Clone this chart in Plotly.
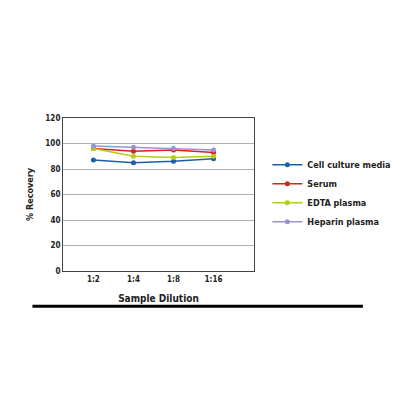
import plotly.graph_objects as go

dilutions = ['1:2', '1:4', '1:8', '1:16']
cell_culture = [87, 85, 86, 88]
serum = [96, 94, 95, 93]
edta = [96, 90, 89, 90]
heparin = [98, 97, 96, 95]
y_ticks = [0, 20, 40, 60, 80, 100, 120]

series = [
    ('Cell culture media', cell_culture, '#1f5fa8'),
    ('Serum', serum, '#d9211e'),
    ('EDTA plasma', edta, '#b5cc18'),
    ('Heparin plasma', heparin, '#9a93d6'),
]

FONT = 'Liberation Sans Narrow, DejaVu Sans Condensed, sans-serif'
xs = list(range(1, len(dilutions) + 1))

fig = go.Figure()
for name, vals, color in series:
    fig.add_trace(go.Scatter(
        x=xs, y=vals, name='<b>' + name + '</b>', mode='lines+markers',
        line=dict(color=color, width=1.5),
        marker=dict(color=color, size=5),
    ))

fig.update_layout(
    width=400, height=400,
    margin=dict(l=55, r=122, t=110, b=137),
    paper_bgcolor='white', plot_bgcolor='white',
    font=dict(family=FONT, size=8, color='#222'),
    legend=dict(x=1.07, y=0.79, xanchor='left', yanchor='top',
                font=dict(size=9, family=FONT), tracegroupgap=0,
                itemwidth=30),
    xaxis=dict(
        range=[0.24, 5.01], tickvals=xs, ticktext=['<b>%s</b>' % d for d in dilutions],
        showgrid=False, zeroline=False,
        showline=True, linecolor='#444', linewidth=1, mirror=True,
        title=dict(text='<b>Sample Dilution</b>', font=dict(size=10), standoff=12),
    ),
    yaxis=dict(
        range=[0, 120], tickvals=y_ticks, ticktext=['<b>%d</b>' % t for t in y_ticks],
        showgrid=True, gridcolor='#b0b0b0', gridwidth=1, zeroline=False,
        showline=True, linecolor='#444', linewidth=1, mirror=True,
        title=dict(text='<b>% Recovery</b>', font=dict(size=9), standoff=10),
    ),
)

# separator rule under the chart
fig.add_shape(type='line', xref='paper', yref='paper',
              x0=-0.16, x1=1.57, y0=-0.23, y1=-0.23,
              line=dict(color='black', width=3))

fig.write_html('out.html')
